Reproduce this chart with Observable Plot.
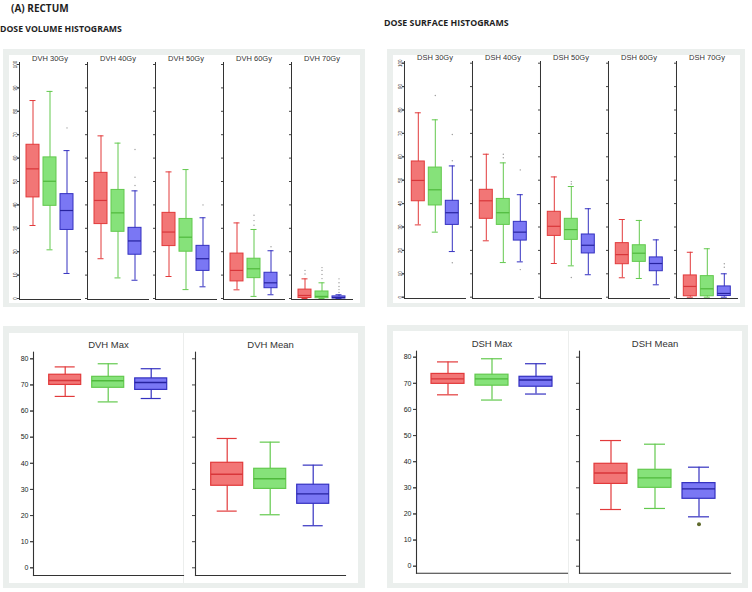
<!DOCTYPE html>
<html><head><meta charset="utf-8">
<script src="https://cdn.jsdelivr.net/npm/d3@7"></script>
<script src="https://cdn.jsdelivr.net/npm/@observablehq/plot@0.6"></script>
<style>
body{margin:0;background:#fff;}
#root{position:relative;width:752px;height:592px;overflow:hidden;font-family:"Liberation Sans",Arial,sans-serif;}
.panel{position:absolute;box-sizing:border-box;border-style:solid;border-color:#ebefed;background:#fff;}
.divider{position:absolute;width:1px;background:#eceeed;}
.hdr{position:absolute;font-family:"Open Sans",sans-serif;font-weight:700;color:#1e1e1e;white-space:nowrap;line-height:1;}
.plot{position:absolute;}
</style></head><body><div id="root"></div>
<script>
// ---- groups & colours ----
const groups = ["G1", "G2", "G3"];
const fills = ["#f27676", "#86e27a", "#7a77f4"];
const strokes = ["#e23a3b", "#63c94e", "#3431c0"];
const medianStrokes = ["#d8363a", "#4fb93c", "#27239f"];

// ---- Dose volume histograms (top left) ----
const dvhFacets = ["DVH 30Gy", "DVH 40Gy", "DVH 50Gy", "DVH 60Gy", "DVH 70Gy"];
const dvhLow  = [[31.2, 20.8, 10.7], [17.0, 8.8, 7.8], [9.4, 3.8, 5.0], [3.7, 0.9, 1.6], [0, 0, 0]];
const dvhQ1   = [[43.2, 39.6, 29.3], [31.8, 28.5, 18.7], [22.4, 20.0, 11.8], [7.3, 8.7, 4.4], [0.2, 0.1, 0]];
const dvhMed  = [[55.4, 50.1, 37.6], [41.9, 36.6, 24.6], [28.4, 26.2, 17.0], [12.0, 12.7, 6.7], [1.3, 0.9, 0.4]];
const dvhQ3   = [[65.7, 60.3, 44.6], [53.7, 46.4, 30.2], [36.6, 34.0, 22.5], [19.2, 17.0, 11.0], [3.8, 3.0, 0.9]];
const dvhHigh = [[84.6, 88.5, 63.2], [69.5, 66.4, 46.0], [54.1, 55.1, 34.5], [32.3, 29.5, 20.4], [8.4, 6.7, 1.6]];
const dvhOutliers = [[0, 2, 72.9], [1, 2, 63.7], [1, 2, 51.8], [1, 2, 48.3], [2, 2, 40.0],
  [3, 1, 35.6], [3, 1, 33.3], [3, 1, 31.3], [3, 2, 22.1],
  [4, 0, 12.0], [4, 0, 10.5], [4, 1, 13.2], [4, 1, 12.0], [4, 1, 10.3], [4, 1, 8.5],
  [4, 2, 8.4], [4, 2, 6.7], [4, 2, 5.1], [4, 2, 3.8], [4, 2, 2.6]];

// ---- Dose surface histograms (top right) ----
const dshFacets = ["DSH 30Gy", "DSH 40Gy", "DSH 50Gy", "DSH 60Gy", "DSH 70Gy"];
const dshLow  = [[30.9, 27.8, 19.5], [24.1, 14.8, 15.1], [14.4, 13.4, 9.6], [8.3, 8.0, 5.3], [0, 0, 0]];
const dshQ1   = [[41.0, 39.2, 30.9], [33.5, 30.9, 24.2], [26.2, 24.5, 18.7], [14.1, 15.1, 11.1], [0.4, 0.4, 0.5]];
const dshMed  = [[49.9, 45.9, 36.1], [41.2, 36.1, 27.8], [30.3, 28.9, 22.2], [18.2, 18.8, 14.4], [4.6, 3.6, 1.6]];
const dshQ3   = [[58.0, 55.4, 41.2], [45.9, 42.0, 32.2], [36.5, 33.5, 26.8], [23.1, 22.2, 17.0], [9.3, 9.0, 4.6]];
const dshHigh = [[78.8, 75.8, 56.1], [61.1, 57.4, 43.8], [51.4, 47.3, 37.8], [33.2, 32.8, 24.5], [19.2, 20.7, 10.0]];
const dshOutliers = [[0, 1, 86.2], [0, 2, 69.5], [0, 2, 58.3], [0, 2, 14.7],
  [1, 1, 61.1], [1, 1, 59.6], [1, 2, 54.4], [1, 2, 11.8],
  [2, 1, 49.4], [2, 1, 48.4], [2, 1, 8.4], [4, 2, 14.3], [4, 2, 12.8]];

// ---- DVH max / mean (bottom left) ----
const dvhSumFacets = ["DVH Max", "DVH Mean"];
const dvhSumLow  = [[65.6, 63.5, 64.8], [21.7, 20.3, 16.1]];
const dvhSumQ1   = [[70.0, 68.9, 68.1], [31.4, 30.2, 24.5]];
const dvhSumMed  = [[71.7, 71.6, 70.9], [35.8, 34.1, 28.3]];
const dvhSumQ3   = [[73.9, 73.1, 72.5], [40.2, 37.9, 31.8]];
const dvhSumHigh = [[76.9, 78.1, 76.2], [49.5, 48.1, 39.3]];
const dvhSumOutliers = [];

// ---- DSH max / mean (bottom right) ----
const dshSumFacets = ["DSH Max", "DSH Mean"];
const dshSumLow  = [[65.6, 63.6, 65.9], [21.7, 22.1, 18.9]];
const dshSumQ1   = [[69.8, 69.1, 68.7], [31.5, 30.0, 25.8]];
const dshSumMed  = [[71.7, 71.7, 71.3], [35.7, 33.8, 29.6]];
const dshSumQ3   = [[73.6, 73.3, 72.5], [39.2, 36.9, 31.8]];
const dshSumHigh = [[78.2, 79.4, 77.5], [48.1, 46.7, 37.9]];
const dshSumOutliers = [[1, 2, 16.1]];

// ---- tick labels ----
const topTicks = [0, 10, 20, 30, 40, 50, 60, 70, 80, 90, 100];
const bottomTicks = [0, 10, 20, 30, 40, 50, 60, 70, 80];

const root = document.getElementById("root");

function addDiv(cls, style, text) {
  const d = document.createElement("div");
  d.className = cls;
  Object.assign(d.style, style);
  if (text) d.textContent = text;
  root.appendChild(d);
  return d;
}

function boxPlot(c) {
  const rows = [];
  c.facets.forEach((f, i) => groups.forEach((g, j) => rows.push({
    facet: f, group: g, gi: j,
    low: c.low[i][j], q1: c.q1[i][j], median: c.med[i][j], q3: c.q3[i][j], high: c.high[i][j]
  })));
  const outs = c.outliers.map(([i, j, v]) => ({facet: c.facets[i], group: groups[j], gi: j, value: v}));
  const svg = Plot.plot({
    width: c.width, height: c.height,
    marginLeft: c.ml, marginRight: c.mr, marginTop: c.mt, marginBottom: c.mb,
    style: {background: "transparent", fontFamily: "'Liberation Sans', Arial, sans-serif", color: "#222", overflow: "visible"},
    fx: {domain: c.facets, paddingInner: c.fxPad, paddingOuter: 0, label: null},
    x: {domain: groups, paddingInner: 0.25, paddingOuter: 0.33, axis: null},
    y: {domain: c.yDomain, insetTop: c.insetTop, insetBottom: c.insetBottom, label: null},
    marks: [
      Plot.axisY({ticks: c.ticks, tickSize: c.tickSize, facetAnchor: null, tickFormat: () => "", label: null, stroke: "#444"}),
      Plot.axisY({ticks: c.ticks, tickSize: c.tickSize, tickPadding: c.tickPadding, fontSize: c.tickFont,
        tickRotate: c.tickRotate, label: null, stroke: "#444", fill: "#222"}),
      Plot.axisFx({anchor: "top", tickSize: 0, tickPadding: c.titlePad, fontSize: c.titleFont, label: null, fill: "#333"}),
      Plot.frame({anchor: "left", stroke: "#333", strokeWidth: c.axisWidth}),
      Plot.frame({anchor: "bottom", stroke: "#333", strokeWidth: c.axisWidth}),
      Plot.ruleX(rows, {fx: "facet", x: "group", y1: "low", y2: "high", stroke: d => strokes[d.gi], strokeWidth: c.lineWidth}),
      Plot.tickY(rows, {fx: "facet", x: "group", y: "low", stroke: d => strokes[d.gi], strokeWidth: c.lineWidth, insetLeft: c.cap, insetRight: c.cap}),
      Plot.tickY(rows, {fx: "facet", x: "group", y: "high", stroke: d => strokes[d.gi], strokeWidth: c.lineWidth, insetLeft: c.cap, insetRight: c.cap}),
      Plot.barY(rows, {fx: "facet", x: "group", y1: "q1", y2: "q3", fill: d => fills[d.gi], stroke: d => strokes[d.gi], strokeWidth: c.lineWidth}),
      Plot.tickY(rows, {fx: "facet", x: "group", y: "median", stroke: d => medianStrokes[d.gi], strokeWidth: c.lineWidth + 0.2}),
      Plot.dot(outs, {fx: "facet", x: "group", y: "value", r: c.dotR, fill: c.dotFill, stroke: "none"})
    ]
  });
  svg.classList.add("plot");
  svg.style.left = c.left + "px";
  svg.style.top = c.top + "px";
  root.appendChild(svg);
}

// ---- panel backgrounds ----
addDiv("panel", {left: "3px", top: "49px", width: "362px", height: "258px", borderWidth: "6px 5px 4px 6px"});
addDiv("panel", {left: "387px", top: "49px", width: "358px", height: "258px", borderWidth: "6px 5px 4px 6px"});
addDiv("panel", {left: "3px", top: "326px", width: "362px", height: "262px", borderWidth: "7px 7px 5px 6px"});
addDiv("divider", {left: "183px", top: "333px", height: "250px"});
addDiv("panel", {left: "387px", top: "325px", width: "361px", height: "263px", borderWidth: "6px 6px 5px 6px"});
addDiv("divider", {left: "568px", top: "331px", height: "252px"});

// ---- headers ----
addDiv("hdr", {left: "11px", top: "3px", fontSize: "10px"}, "(A)  RECTUM");
addDiv("hdr", {left: "0px", top: "25px", fontSize: "8.7px"}, "DOSE VOLUME HISTOGRAMS");
addDiv("hdr", {left: "384px", top: "19px", fontSize: "8.8px"}, "DOSE SURFACE HISTOGRAMS");

const topCommon = {
  width: 370, height: 310, yDomain: [0, 100], ticks: topTicks, tickSize: 2, tickPadding: 1, tickFont: 4.5, tickRotate: -90,
  titlePad: 2, titleFont: 7.5, fxPad: 0.1, axisWidth: 1, lineWidth: 1, cap: 3.5, dotR: 0.7, dotFill: "#9a9a9a"
};
boxPlot(Object.assign({}, topCommon, {
  facets: dvhFacets, low: dvhLow, q1: dvhQ1, med: dvhMed, q3: dvhQ3, high: dvhHigh, outliers: dvhOutliers,
  left: 0, top: 0, ml: 17, mr: 16, mt: 62, mb: 11, insetTop: 2, insetBottom: 1
}));
boxPlot(Object.assign({}, topCommon, {
  width: 372,
  facets: dshFacets, low: dshLow, q1: dshQ1, med: dshMed, q3: dshQ3, high: dshHigh, outliers: dshOutliers,
  left: 380, top: 0, ml: 22.7, mr: 12.9, mt: 61, mb: 12, insetTop: 1.7, insetBottom: 1.3
}));

const botCommon = {
  height: 268, yDomain: [0, 80], ticks: bottomTicks, tickSize: 3, tickPadding: 2, tickFont: 7, tickRotate: 0,
  titlePad: 4, titleFont: 9.5, axisWidth: 1.1, lineWidth: 1.2, cap: 6, dotR: 2, dotFill: "#5f6a2c"
};
boxPlot(Object.assign({}, botCommon, {
  width: 365, facets: dvhSumFacets, low: dvhSumLow, q1: dvhSumQ1, med: dvhSumMed, q3: dvhSumQ3, high: dvhSumHigh, outliers: dvhSumOutliers,
  left: 0, top: 320, ml: 32.3, mr: 19, mt: 31.7, mb: 13, insetTop: 6.6, insetBottom: 7.7, fxPad: 0.072
}));
boxPlot(Object.assign({}, botCommon, {
  width: 368, facets: dshSumFacets, low: dshSumLow, q1: dshSumQ1, med: dshSumMed, q3: dshSumQ3, high: dshSumHigh, outliers: dshSumOutliers,
  left: 380, top: 320, ml: 36, mr: 17.7, mt: 30.7, mb: 15.3, insetTop: 6, insetBottom: 7, fxPad: 0.075
}));
</script></body></html>
